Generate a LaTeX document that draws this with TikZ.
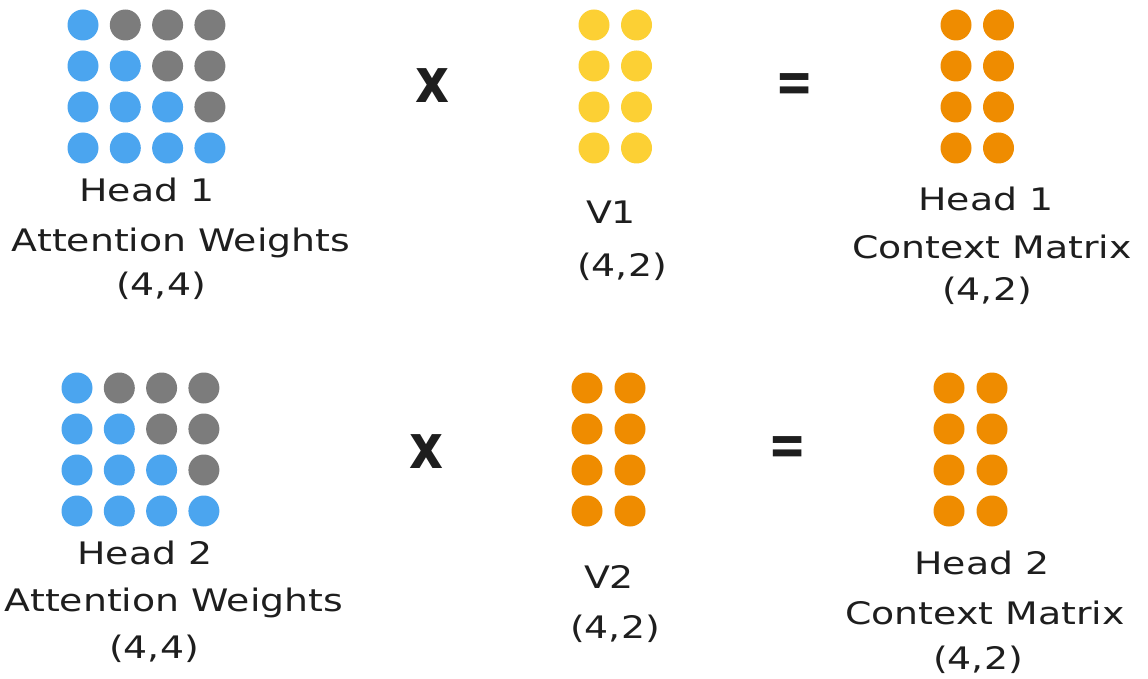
\documentclass[tikz,border=0pt]{standalone}
\usepackage{fontspec}
\newfontfamily\hand[FakeStretch=1.22]{DejaVu Sans}
\newfontfamily\opfont{DejaVu Sans}
\definecolor{wblue}{HTML}{4BA5EF}
\definecolor{wgray}{HTML}{7C7C7C}
\definecolor{wyellow}{HTML}{FCD034}
\definecolor{worange}{HTML}{EF8C00}
\definecolor{ink}{HTML}{1E1E1E}
\begin{document}
\begin{tikzpicture}[x=1pt,y=-1pt,
  dot/.style={circle,inner sep=0pt,minimum size=31pt,draw=none},
  lab/.style={font=\hand\fontsize{31}{31}\selectfont,text=ink,inner sep=0pt,text height=22.5pt,text depth=0pt,anchor=center},
  opx/.style={font=\opfont\bfseries\fontsize{62}{62}\selectfont,text=ink,inner sep=0pt,anchor=base},
  opeq/.style={font=\opfont\bfseries\fontsize{60}{60}\selectfont,text=ink,inner sep=0pt,anchor=center}]
\useasboundingbox (0,0) rectangle (1148,679);
% attention weight grids
\foreach \r in {0,...,3}{\foreach \c in {0,...,3}{
  \ifnum\c>\r \def\col{wgray}\else\def\col{wblue}\fi
  \node[dot,fill=\col] (aw1-\r-\c) at ({83+42.3*\c},{25+41*\r}) {};
  \node[dot,fill=\col] (aw2-\r-\c) at ({77+42.3*\c},{388+41*\r}) {};
}}
% value and context grids
\foreach \r in {0,...,3}{\foreach \c in {0,1}{
  \node[dot,fill=wyellow] (v1-\r-\c) at ({594+42.5*\c},{25+41*\r}) {};
  \node[dot,fill=worange] (c1-\r-\c) at ({956+42.5*\c},{25+41*\r}) {};
  \node[dot,fill=worange] (v2-\r-\c) at ({587+43*\c},{388+41*\r}) {};
  \node[dot,fill=worange] (c2-\r-\c) at ({949+43*\c},{388+41*\r}) {};
}}
% operators
\node[opx] (x1) at (432,103) {\scalebox{0.85}[1]{x}};
\node[opx] (x2) at (426,468) {\scalebox{0.85}[1]{x}};
\node[opeq] (e1) at (795,88) {\scalebox{0.76}[1]{=}};
\node[opeq] (e2) at (788,451) {\scalebox{0.76}[1]{=}};
% labels row 1
\node[lab] (t1a) at (147,190) {Head 1};
\node[lab] (t1b) at (181,240) {Attention Weights};
\node[lab] (t1c) at (161,284) {(4,4)};
\node[lab] (t2a) at (611,212) {V1};
\node[lab] (t2b) at (622,265) {(4,2)};
\node[lab] (t3a) at (986,199) {Head 1};
\node[lab] (t3b) at (992,247) {Context Matrix};
\node[lab] (t3c) at (987,289) {(4,2)};
% labels row 2
\node[lab] (b1a) at (145,553) {Head 2};
\node[lab] (b1b) at (174,600) {Attention Weights};
\node[lab] (b1c) at (154,647) {(4,4)};
\node[lab] (b2a) at (609,577) {V2};
\node[lab] (b2b) at (615,627) {(4,2)};
\node[lab] (b3a) at (982,563) {Head 2};
\node[lab] (b3b) at (985,613) {Context Matrix};
\node[lab] (b3c) at (978,658) {(4,2)};
\end{tikzpicture}
\end{document}
